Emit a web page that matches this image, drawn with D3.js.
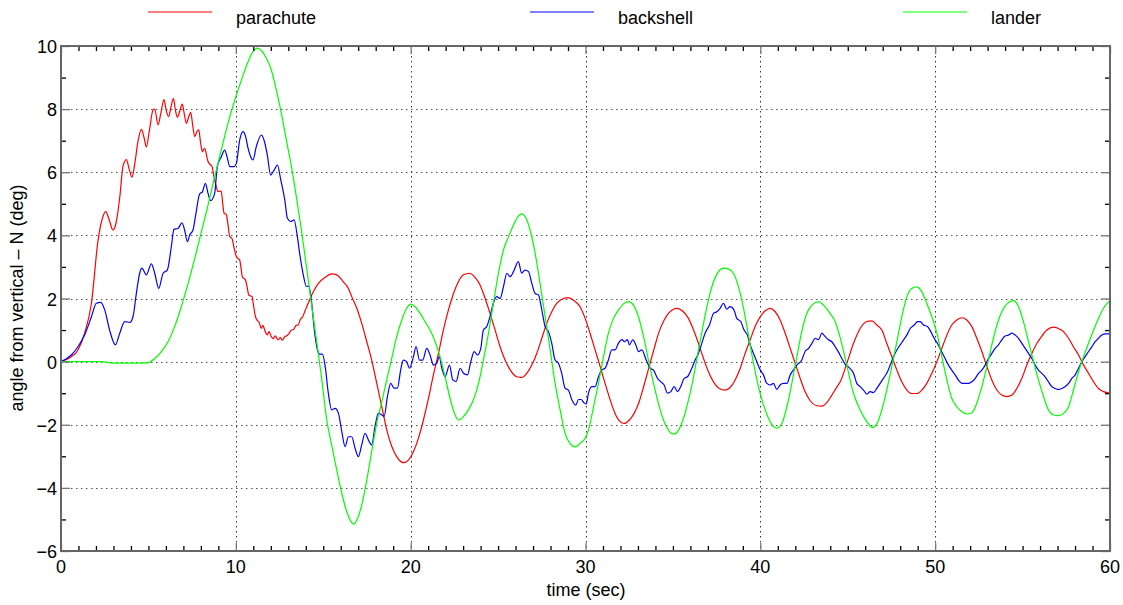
<!DOCTYPE html>
<html><head><meta charset="utf-8">
<script src="https://cdn.jsdelivr.net/npm/d3@7"></script>
<style>
body{margin:0;background:#fff;}
text{font-family:"Liberation Sans",Arial,Helvetica,sans-serif;fill:#000;}
</style></head>
<body><svg id="chart" width="1123" height="605"></svg>
<script>
// ---- data ----
const seriesNames = ["parachute", "backshell", "lander"];
const seriesColors = ["#ff0000", "#0000ff", "#00ff00"];
const xTicks = [0, 10, 20, 30, 40, 50, 60];
const yTicks = [-6, -4, -2, 0, 2, 4, 6, 8, 10];

const parachuteT = [0,0.5,0.97,1.35,1.74,2.12,2.4,2.56,2.75,2.97,3.15,3.36,3.55,3.74,3.9,4.06,4.2,4.41,4.6,4.75,4.88,5.05,5.26,5.36,5.55,5.72,5.89,6.02,6.16,6.3,6.43,6.55,6.66,6.8,6.94,7.05,7.17,7.3,7.42,7.53,7.65,7.78,7.88,7.98,8.09,8.15,8.22,8.32,8.41,8.52,8.64,8.72,8.79,8.88,8.98,9.08,9.17,9.25,9.33,9.4,9.46,9.56,9.65,9.72,9.78,9.9,10.03,10.12,10.22,10.3,10.37,10.46,10.55,10.65,10.74,10.84,10.93,11.02,11.12,11.24,11.36,11.45,11.55,11.65,11.8,11.9,12.03,12.15,12.25,12.41,12.55,12.65,12.8,12.92,13.05,13.18,13.3,13.45,13.56,13.7,13.8,13.94,14.1,14.25,14.44,14.72,15.1,15.48,15.77,16.15,16.44,16.63,16.92,17.2,17.49,17.77,18.06,18.35,18.63,18.92,19.2,19.58,19.87,20.16,20.44,20.73,21.02,21.3,21.59,21.87,22.16,22.45,22.73,23.02,23.36,23.68,23.97,24.26,24.54,24.83,25.11,25.4,25.69,26.07,26.35,26.64,26.93,27.21,27.5,27.78,28.07,28.36,28.74,29.02,29.35,29.69,29.98,30.26,30.55,30.84,31.12,31.41,31.69,31.98,32.21,32.51,32.78,33.07,33.35,33.64,33.93,34.21,34.5,34.78,35.03,35.22,35.6,35.89,36.18,36.46,36.75,37.03,37.32,37.66,37.99,38.27,38.56,38.85,39.13,39.42,39.7,39.99,40.28,40.56,40.85,41.13,41.42,41.71,41.99,42.28,42.56,42.85,43.19,43.52,43.8,44.09,44.38,44.57,44.95,45.33,45.71,46.09,46.38,46.66,46.95,47.23,47.52,47.81,48.09,48.38,48.66,48.95,49.24,49.52,49.81,50.1,50.38,50.67,50.95,51.24,51.53,51.81,52.1,52.38,52.67,52.96,53.24,53.53,53.81,54.1,54.39,54.67,54.96,55.24,55.53,55.82,56.1,56.39,56.77,57.05,57.34,57.63,57.91,58.2,58.49,58.77,59.06,59.34,59.63,60];
const parachuteV = [0,0.12,0.37,0.9,1.85,3.85,4.6,4.75,4.5,4.17,4.4,5.2,6.2,6.4,6.1,5.84,6.2,7.0,7.36,7.1,6.8,7.3,7.97,8.0,7.5,7.9,8.3,7.95,7.76,8.1,8.33,7.95,7.74,7.95,8.16,7.85,7.55,7.75,7.9,7.5,7.13,7.3,7.34,6.95,6.65,6.72,6.76,6.55,6.34,6.25,6.18,5.95,5.75,5.55,5.39,5.4,5.39,5.0,4.7,4.68,4.65,4.3,3.96,3.93,3.9,3.6,3.33,3.27,3.22,2.95,2.69,2.64,2.59,2.35,2.11,2.08,2.06,1.75,1.43,1.3,1.21,1.05,1.15,1.0,0.85,0.95,0.79,0.72,0.82,0.69,0.76,0.68,0.79,0.82,0.9,1.0,1.02,1.15,1.16,1.35,1.4,1.58,1.8,2.0,2.22,2.48,2.67,2.78,2.75,2.53,2.32,2.06,1.69,1.21,0.63,0.05,-0.69,-1.43,-2.16,-2.69,-3.01,-3.2,-3.12,-2.85,-2.43,-1.85,-1.16,-0.42,0.26,1.0,1.64,2.16,2.53,2.75,2.8,2.67,2.43,2.0,1.53,1.0,0.48,0.05,-0.26,-0.48,-0.5,-0.37,-0.11,0.26,0.74,1.21,1.58,1.85,2.0,2.03,1.93,1.74,1.37,0.9,0.37,-0.16,-0.69,-1.21,-1.64,-1.9,-1.96,-1.85,-1.64,-1.27,-0.74,-0.16,0.42,0.95,1.32,1.55,1.66,1.69,1.58,1.37,1.0,0.58,0.1,-0.32,-0.64,-0.85,-0.9,-0.82,-0.58,-0.21,0.26,0.69,1.11,1.42,1.61,1.69,1.58,1.32,0.9,0.42,-0.05,-0.53,-0.95,-1.24,-1.39,-1.41,-1.3,-1.06,-0.8,-0.64,-0.05,0.58,1.05,1.27,1.29,1.16,1.0,0.58,0.16,-0.27,-0.64,-0.9,-1.01,-1.01,-0.9,-0.69,-0.37,0,0.42,0.84,1.16,1.32,1.39,1.32,1.11,0.74,0.32,-0.16,-0.58,-0.9,-1.06,-1.11,-1.06,-0.85,-0.53,-0.11,0.26,0.58,0.81,1.0,1.09,1.05,0.95,0.74,0.47,0.21,-0.11,-0.37,-0.64,-0.85,-0.95,-1.0];

const backshellT = [0,0.59,0.97,1.35,1.74,2.02,2.27,2.5,2.78,3.11,3.36,3.64,3.93,4.12,4.31,4.5,4.63,4.88,5.17,5.36,5.59,5.84,6.08,6.31,6.46,6.69,6.92,7.07,7.23,7.36,7.55,7.69,7.93,8.09,8.26,8.41,8.56,8.79,8.94,9.17,9.36,9.52,9.65,9.9,10.03,10.22,10.41,10.56,10.7,10.98,11.17,11.46,11.61,11.8,11.99,12.19,12.38,12.57,12.8,12.95,13.14,13.33,13.52,13.65,13.84,14.04,14.17,14.32,14.5,14.68,14.8,14.95,15.1,15.29,15.48,15.67,15.87,16.06,16.25,16.44,16.63,16.82,17.01,17.2,17.39,17.58,17.77,17.96,18.15,18.35,18.48,18.67,18.86,19.05,19.24,19.43,19.58,19.77,19.93,20.16,20.31,20.5,20.69,20.92,21.11,21.3,21.49,21.63,21.78,21.97,22.22,22.41,22.6,22.83,23.02,23.25,23.44,23.63,23.82,24.01,24.16,24.35,24.54,24.73,24.92,25.11,25.31,25.5,25.69,25.88,26.16,26.35,26.54,26.74,26.93,27.12,27.31,27.5,27.69,27.88,28.07,28.26,28.45,28.64,28.83,29.02,29.22,29.44,29.6,29.75,29.9,30.04,30.17,30.36,30.55,30.74,30.93,31.12,31.31,31.5,31.69,31.88,32.08,32.23,32.4,32.51,32.7,32.88,33.03,33.22,33.47,33.7,33.89,34.12,34.31,34.5,34.69,34.88,35.07,35.26,35.45,35.64,35.83,36.08,36.27,36.46,36.65,36.84,37.09,37.32,37.51,37.7,37.89,38.08,38.27,38.5,38.65,38.88,39.07,39.26,39.42,39.61,39.8,39.99,40.18,40.37,40.56,40.75,40.94,41.13,41.32,41.52,41.71,41.9,42.09,42.37,42.56,42.76,42.95,43.14,43.33,43.52,43.71,43.9,44.09,44.28,44.47,44.66,44.85,45.1,45.33,45.52,45.71,45.9,46.09,46.28,46.47,46.66,46.85,47.04,47.23,47.43,47.62,47.81,48.0,48.19,48.38,48.57,48.8,48.99,49.14,49.33,49.56,49.75,49.94,50.13,50.32,50.57,50.76,50.95,51.14,51.33,51.53,51.72,51.91,52.1,52.29,52.48,52.67,52.86,53.05,53.24,53.43,53.62,53.81,54.0,54.19,54.39,54.58,54.77,54.96,55.15,55.34,55.53,55.72,55.91,56.1,56.29,56.48,56.67,56.86,57.05,57.25,57.44,57.63,57.82,58.01,58.2,58.39,58.58,58.77,58.96,59.15,59.34,59.53,59.72,60];
const backshellV = [0,0.21,0.47,0.84,1.42,1.85,1.88,1.64,1.0,0.53,0.9,1.27,1.24,1.43,2.16,2.8,2.96,2.75,3.1,2.8,2.32,2.8,2.9,3.64,4.19,4.22,4.4,4.17,3.8,4.01,4.17,4.6,5.31,5.38,5.65,5.33,5.1,5.33,6.18,6.49,6.7,6.44,6.18,6.18,6.28,7.02,7.29,7.13,6.76,6.39,6.81,7.18,7.02,6.55,5.91,6.07,6.23,5.76,5.12,4.54,4.44,4.49,3.96,3.43,2.8,2.38,2.4,1.95,0.95,0.35,0.24,0.24,-0.11,-1.0,-1.53,-1.48,-1.64,-2.22,-2.69,-2.38,-2.38,-2.75,-3.01,-2.64,-2.27,-2.48,-2.64,-2.06,-1.64,-1.69,-1.74,-1.11,-0.69,-0.84,-0.84,-0.26,0.05,0,-0.21,0.16,0.48,0.05,0.05,0.42,0.21,-0.11,-0.05,0.16,-0.21,-0.48,-0.11,-0.58,-0.63,-0.21,-0.37,-0.42,0,0.32,0.21,0.42,1.0,1.11,1.43,1.85,2.06,2.0,2.38,2.8,2.69,2.85,3.17,2.8,2.9,2.85,2.48,2.16,2.11,1.64,1.11,0.95,0.58,0.05,-0.05,-0.37,-0.84,-0.9,-1.21,-1.38,-1.2,-1.2,-1.3,-1.34,-1.0,-0.79,-0.79,-0.48,-0.26,-0.21,0.05,0.37,0.37,0.58,0.7,0.63,0.7,0.53,0.69,0.53,0.32,0.37,0.05,-0.21,-0.27,-0.53,-0.64,-0.74,-1.0,-0.95,-0.79,-0.95,-0.79,-0.53,-0.48,-0.21,0.05,0.26,0.58,0.9,1.16,1.53,1.58,1.69,1.85,1.66,1.74,1.63,1.37,1.27,1.0,0.84,0.53,0.26,0,-0.26,-0.42,-0.69,-0.74,-0.69,-0.88,-0.74,-0.69,-0.69,-0.42,-0.26,-0.11,0.05,0.32,0.42,0.58,0.74,0.7,0.9,0.79,0.69,0.63,0.47,0.3,0.1,-0.08,-0.2,-0.37,-0.69,-0.79,-0.9,-1.03,-0.95,-0.98,-0.85,-0.69,-0.53,-0.37,-0.11,0.16,0.37,0.53,0.69,0.84,1.05,1.16,1.27,1.27,1.16,1.11,0.95,0.74,0.58,0.37,0.1,-0.11,-0.27,-0.42,-0.58,-0.69,-0.69,-0.69,-0.64,-0.53,-0.37,-0.27,-0.11,0.1,0.26,0.42,0.53,0.69,0.81,0.84,0.9,0.84,0.74,0.58,0.42,0.26,0.1,-0.11,-0.27,-0.37,-0.48,-0.64,-0.79,-0.85,-0.88,-0.85,-0.79,-0.69,-0.53,-0.42,-0.21,0,0.16,0.32,0.47,0.63,0.74,0.84,0.88,0.88];

const landerT = [0,1,2,2.5,3,4,4.6,5.0,5.36,5.74,6.12,6.5,6.88,7.27,7.65,8.03,8.41,8.79,9.17,9.55,9.94,10.32,10.7,10.98,11.23,11.47,11.75,12.03,12.32,12.6,12.89,13.18,13.46,13.75,14.04,14.32,14.61,14.9,15.2,15.48,15.77,16.06,16.34,16.63,16.75,16.92,17.2,17.49,17.77,18.06,18.35,18.63,18.92,19.2,19.49,19.77,20.0,20.25,20.54,20.82,21.11,21.4,21.68,21.97,22.25,22.54,22.73,23.02,23.3,23.59,23.88,24.16,24.45,24.73,25.02,25.31,25.6,25.88,26.16,26.35,26.6,26.83,27.12,27.4,27.69,27.98,28.26,28.55,28.83,29.12,29.41,29.69,29.98,30.17,30.46,30.74,31.03,31.31,31.6,31.88,32.17,32.46,32.74,33.03,33.32,33.6,33.89,34.17,34.46,34.75,35.03,35.32,35.6,35.89,36.18,36.46,36.75,37.03,37.32,37.61,37.89,38.18,38.46,38.75,39.04,39.32,39.61,39.89,40.18,40.47,40.75,40.94,41.23,41.52,41.8,42.09,42.37,42.66,42.95,43.33,43.61,43.99,44.28,44.57,44.9,45.33,45.71,46.09,46.41,46.66,46.95,47.23,47.52,47.81,48.09,48.38,48.66,48.95,49.24,49.52,49.81,50.1,50.38,50.67,50.95,51.24,51.53,51.81,52.1,52.38,52.67,52.96,53.24,53.53,53.81,54.1,54.48,54.77,55.05,55.34,55.63,55.91,56.2,56.48,56.77,57.05,57.34,57.63,57.91,58.2,58.49,58.77,59.06,59.34,59.63,60];
const landerV = [0,0,0,-0.01,-0.05,-0.05,-0.05,-0.03,0.1,0.32,0.63,1.11,1.74,2.48,3.27,4.12,4.96,5.86,6.71,7.55,8.29,8.92,9.5,9.82,9.93,9.85,9.61,9.24,8.6,7.87,7.02,6.18,5.23,4.17,3.01,1.85,0.69,-0.5,-1.85,-2.64,-3.43,-4.17,-4.75,-5.1,-5.15,-5.02,-4.54,-3.75,-2.85,-1.95,-1.27,-0.58,0.11,0.79,1.32,1.69,1.82,1.74,1.53,1.27,1.0,0.63,0.16,-0.48,-1.16,-1.69,-1.85,-1.74,-1.53,-1.21,-0.69,0.05,0.9,1.85,2.8,3.54,3.96,4.33,4.61,4.68,4.54,4.17,3.43,2.48,1.43,0.37,-0.69,-1.53,-2.27,-2.6,-2.7,-2.59,-2.43,-2.17,-1.43,-0.69,0.16,0.9,1.37,1.63,1.83,1.9,1.79,1.42,0.79,0.05,-0.69,-1.32,-1.85,-2.17,-2.3,-2.17,-1.8,-1.22,-0.48,0.37,1.21,1.95,2.53,2.85,2.96,2.93,2.8,2.37,1.69,0.84,-0.05,-0.79,-1.37,-1.8,-2.06,-2.11,-1.96,-1.43,-0.69,0.16,0.95,1.53,1.79,1.9,1.79,1.53,1.27,0.75,0.0,-1.01,-1.53,-1.9,-2.09,-1.98,-1.53,-0.9,-0.16,0.63,1.42,2.06,2.32,2.37,2.21,1.85,1.42,0.9,0.16,-0.58,-1.16,-1.43,-1.59,-1.66,-1.62,-1.32,-0.79,-0.16,0.53,1.16,1.58,1.83,1.93,1.74,1.27,0.63,0,-0.58,-1.11,-1.53,-1.69,-1.71,-1.64,-1.43,-0.9,-0.32,0.16,0.58,1.0,1.37,1.69,1.95];

// ---- layout ----
const svg = d3.select("#chart");
const L = 61, T = 46, R = 1110, B = 551;
const x = d3.scaleLinear().domain([0, 60]).range([L, R]);
const y = d3.scaleLinear().domain([-6, 10]).range([B, T]);

const xMinor = d3.range(0, 61, 1).filter(v => v % 10 !== 0);
const yMinor = d3.range(-6, 11, 1).filter(v => Math.abs(v) % 2 === 1);
const xGrid = xTicks.slice(1, -1);
const yGrid = yTicks.slice(1, -1);

// gridlines
const grid = svg.append("g");
grid.selectAll(".gx").data(xGrid).join("line")
  .attr("x1", d => Math.round(x(d)) + 0.5).attr("x2", d => Math.round(x(d)) + 0.5)
  .attr("y1", T).attr("y2", B)
  .attr("stroke", "#333").attr("stroke-width", 1).attr("stroke-dasharray", "1.5,3.5");
grid.selectAll(".gy").data(yGrid).join("line")
  .attr("y1", d => Math.round(y(d)) + 0.5).attr("y2", d => Math.round(y(d)) + 0.5)
  .attr("x1", L).attr("x2", R)
  .attr("stroke", "#555").attr("stroke-width", 1).attr("stroke-dasharray", "1.5,3.5");

// series
svg.append("clipPath").attr("id", "clip").append("rect")
  .attr("x", L).attr("y", T).attr("width", R - L).attr("height", B - T);
const series = [
  {T: parachuteT, V: parachuteV},
  {T: backshellT, V: backshellV},
  {T: landerT, V: landerV}
];
const line = d3.line().x(d => x(d[0])).y(d => y(d[1])).curve(d3.curveMonotoneX);
const lines = svg.append("g").attr("clip-path", "url(#clip)");
series.forEach((s, i) => {
  lines.append("path")
    .datum(s.T.map((t, j) => [t, s.V[j]]))
    .attr("fill", "none").attr("stroke", seriesColors[i]).attr("stroke-width", 1.2)
    .attr("d", line);
});

// ticks with d3 axes (inward)
function styleTicks(g, color) {
  g.select(".domain").remove();
  g.selectAll(".tick line").attr("stroke", color).attr("stroke-width", 1.3);
  g.selectAll(".tick text").remove();
}
svg.append("g").attr("transform", `translate(0,${B})`)
  .call(d3.axisBottom(x).tickValues(xMinor).tickSize(-5)).call(g => styleTicks(g, "#000"));
svg.append("g").attr("transform", `translate(0,${T})`)
  .call(d3.axisTop(x).tickValues(xMinor).tickSize(-5)).call(g => styleTicks(g, "#000"));
svg.append("g").attr("transform", `translate(0,${B})`)
  .call(d3.axisBottom(x).tickValues(xTicks).tickSize(-8)).call(g => styleTicks(g, "#777"));
svg.append("g").attr("transform", `translate(0,${T})`)
  .call(d3.axisTop(x).tickValues(xTicks).tickSize(-8)).call(g => styleTicks(g, "#777"));
svg.append("g").attr("transform", `translate(${L},0)`)
  .call(d3.axisLeft(y).tickValues(yMinor).tickSize(-5)).call(g => styleTicks(g, "#000"));
svg.append("g").attr("transform", `translate(${R},0)`)
  .call(d3.axisRight(y).tickValues(yMinor).tickSize(-5)).call(g => styleTicks(g, "#000"));
svg.append("g").attr("transform", `translate(${L},0)`)
  .call(d3.axisLeft(y).tickValues(yTicks).tickSize(-9)).call(g => styleTicks(g, "#777"));
svg.append("g").attr("transform", `translate(${R},0)`)
  .call(d3.axisRight(y).tickValues(yTicks).tickSize(-9)).call(g => styleTicks(g, "#777"));

// frame
svg.append("rect").attr("x", L).attr("y", T).attr("width", R - L).attr("height", B - T)
  .attr("fill", "none").attr("stroke", "#666").attr("stroke-width", 2);

// tick labels
const fmt = d3.format("d");
svg.append("g").selectAll("text").data(xTicks).join("text")
  .attr("x", d => x(d)).attr("y", 573)
  .attr("text-anchor", "middle").attr("font-size", 18).text(d => fmt(d));
svg.append("g").selectAll("text").data(yTicks).join("text")
  .attr("x", 57).attr("y", d => y(d) + 7)
  .attr("text-anchor", "end").attr("font-size", 18).text(d => fmt(d));

// axis titles
svg.append("text").attr("x", 586).attr("y", 596).attr("text-anchor", "middle")
  .attr("font-size", 18).text("time (sec)");
svg.append("text").attr("transform", "translate(23,298) rotate(-90)").attr("text-anchor", "middle")
  .attr("font-size", 18).text("angle from vertical – N (deg)");

// legend
const legX = [148, 530, 903];
const leg = svg.append("g");
seriesNames.forEach((n, i) => {
  leg.append("line").attr("x1", legX[i]).attr("x2", legX[i] + 64).attr("y1", 12).attr("y2", 12)
    .attr("stroke", seriesColors[i]).attr("stroke-width", 1.2);
  leg.append("text").attr("x", legX[i] + 88).attr("y", 24).attr("font-size", 18).text(n);
});
</script></body></html>
